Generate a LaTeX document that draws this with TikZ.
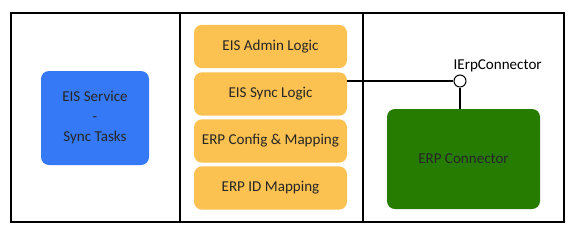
\documentclass[tikz,border=0pt]{standalone}
\usepackage{fontspec}
\setmainfont{Carlito}
\definecolor{svcblue}{HTML}{3579F6}
\definecolor{logicorange}{HTML}{FCC251}
\definecolor{connectgreen}{HTML}{267C00}
\tikzset{
    block/.style={rounded corners=6pt, inner sep=0pt, align=center, font=\fontsize{11.3}{15}\selectfont, text=black!85},
    logic/.style={block, fill=logicorange, minimum width=114.75pt, minimum height=32.5pt},
    wire/.style={line width=0.8pt}
}
\begin{document}
\begin{tikzpicture}[x=0.75pt, y=-0.75pt]
            \useasboundingbox (0,0) rectangle (575,233);
            % Frame and column dividers
            \draw[line width=1.1pt] (11,13) rectangle (564,222);
            \draw[wire] (180,13) -- (180,222);
            \draw[wire] (363,13) -- (363,222);

            % Service block
            \node[block, fill=svcblue, minimum width=81pt, minimum height=70.5pt] (service) at (95,118) {EIS Service\\-\\Sync Tasks};

            % Logic blocks
            \node[logic] (admin) at (270.5,46.5) {EIS Admin Logic};
            \node[logic] (sync) at (270.5,94) {EIS Sync Logic};
            \node[logic] (config) at (270.5,141) {ERP Config \& Mapping};
            \node[logic] (idmap) at (270.5,188) {ERP ID Mapping};

            % Connector block and interface
            \node[block, fill=connectgreen, minimum width=114.75pt, minimum height=75pt] (erp) at (463.5,159) {ERP Connector};
            \node[circle, draw, wire, fill=white, inner sep=0pt, minimum size=9pt] (iface) at (460,81) {};
            \node[anchor=south west, font=\fontsize{11.3}{13}\selectfont, inner sep=1pt] (ifacelabel) at ([xshift=-6pt,yshift=1pt]iface.north) {IErpConnector};

            \draw[wire] (sync.east |- iface) -- (iface.west);
            \draw[wire] (iface.south) -- (iface |- erp.north);
        \end{tikzpicture}
\end{document}
